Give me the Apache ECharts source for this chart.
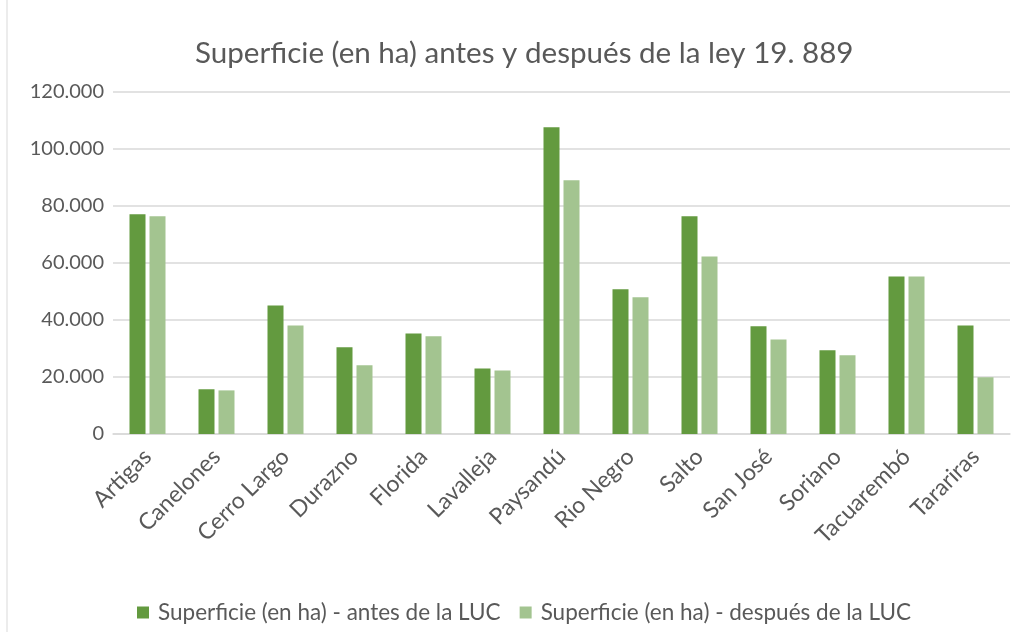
<!DOCTYPE html>
<html>
<head>
<meta charset="utf-8">
<script src="https://cdn.jsdelivr.net/npm/echarts@6/dist/echarts.min.js"></script>
<style>
  html, body { margin: 0; padding: 0; background: #fff; }
  #chart { width: 1018px; height: 632px; }
</style>
</head>
<body>
<div id="chart"></div>
<script>
var departamentos = ['Artigas', 'Canelones', 'Cerro Largo', 'Durazno', 'Florida', 'Lavalleja',
    'Paysandú', 'Rio Negro', 'Salto', 'San José', 'Soriano', 'Tacuarembó', 'Tarariras'];
var antes = [77100, 15700, 45100, 30400, 35300, 23000, 107600, 50800, 76400, 37800, 29400, 55300, 38100];
var despues = [76400, 15300, 38100, 24100, 34300, 22300, 89000, 48000, 62300, 33200, 27600, 55300, 19900];
var yTicks = [0, 20000, 40000, 60000, 80000, 100000, 120000];

var chart = echarts.init(document.getElementById('chart'));
var font = 'Lato, "Open Sans", sans-serif';

function fmt(v) {
    return String(v).replace(/\B(?=(\d{3})+(?!\d))/g, '.');
}

var option = {
    textStyle: { fontFamily: font },
    title: {
        text: 'Superficie (en ha) antes y después de la ley 19. 889',
        left: 190,
        top: 33,
        textStyle: { fontFamily: font, fontSize: 29.6, fontWeight: 'normal', color: '#595959' }
    },
    graphic: [{
        type: 'rect',
        shape: { x: 7, y: -2, width: 1020, height: 640 },
        style: { fill: 'none', stroke: '#d9d9d9', lineWidth: 1 },
        silent: true
    }],
    grid: {
        left: 113, right: 8, top: 92, bottom: 198,
        containLabel: false, outerBoundsMode: 'none'
    },
    legend: {
        bottom: 3,
        left: 132,
        itemWidth: 12,
        itemHeight: 12,
        itemGap: 19,
        icon: 'rect',
        textStyle: { fontFamily: font, fontSize: 22.5, color: '#595959', padding: [0, 0, 0, 4] },
        data: ['Superficie (en ha) - antes de la LUC', 'Superficie (en ha) - después de la LUC']
    },
    xAxis: {
        type: 'category',
        data: departamentos,
        axisLine: { lineStyle: { color: '#d9d9d9', width: 1.5 } },
        axisTick: { show: false },
        axisLabel: {
            interval: 0,
            rotate: 45,
            margin: 19,
            fontFamily: font,
            fontSize: 23,
            color: '#595959'
        }
    },
    yAxis: {
        type: 'value',
        min: yTicks[0],
        max: yTicks[yTicks.length - 1],
        interval: yTicks[1] - yTicks[0],
        axisLine: { show: false },
        axisTick: { show: false },
        splitLine: { lineStyle: { color: '#d9d9d9', width: 1.5 } },
        axisLabel: {
            margin: 9,
            fontFamily: font,
            fontSize: 20,
            color: '#595959',
            formatter: fmt
        }
    },
    series: [
        {
            name: 'Superficie (en ha) - antes de la LUC',
            type: 'bar',
            barWidth: 16,
            barGap: '25%',
            itemStyle: { color: '#639a3f' },
            data: antes
        },
        {
            name: 'Superficie (en ha) - después de la LUC',
            type: 'bar',
            barWidth: 16,
            barGap: '25%',
            itemStyle: { color: '#a3c490' },
            data: despues
        }
    ]
};

chart.setOption(option);
</script>
</body>
</html>
